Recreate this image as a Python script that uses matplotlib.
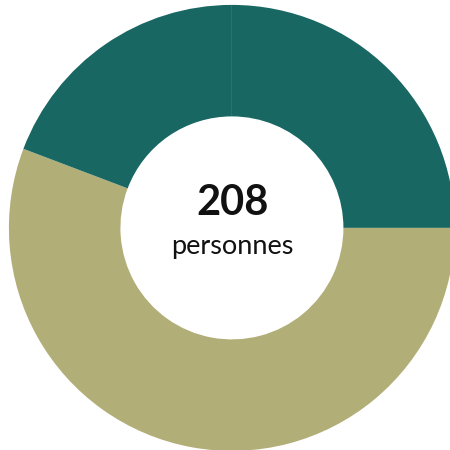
import matplotlib.pyplot as plt

labels = ["Groupe A", "Groupe B", "Groupe C"]
values = [52, 116, 40]
colors = ["#186763", "#b1ae78", "#186763"]
total = 208

fig = plt.figure(figsize=(4.5, 4.5), dpi=100)
ax = fig.add_axes([0, 0, 1, 1])

ax.pie(values, colors=colors, startangle=90, counterclock=False,
       radius=1.0, wedgeprops=dict(width=0.5, linewidth=0))

ax.text(0.003, 0.11, str(total), ha="center", va="center",
        fontsize=30, fontweight="bold", family="Lato", color="#111111")
ax.text(0.003, -0.085, "personnes", ha="center", va="center",
        fontsize=19.5, family="Lato", color="#111111")

ax.set_xlim(-1.040, 0.978)
ax.set_ylim(-0.996, 1.022)
ax.set_aspect("auto")
ax.axis("off")

fig.savefig("out.png", dpi=100)
